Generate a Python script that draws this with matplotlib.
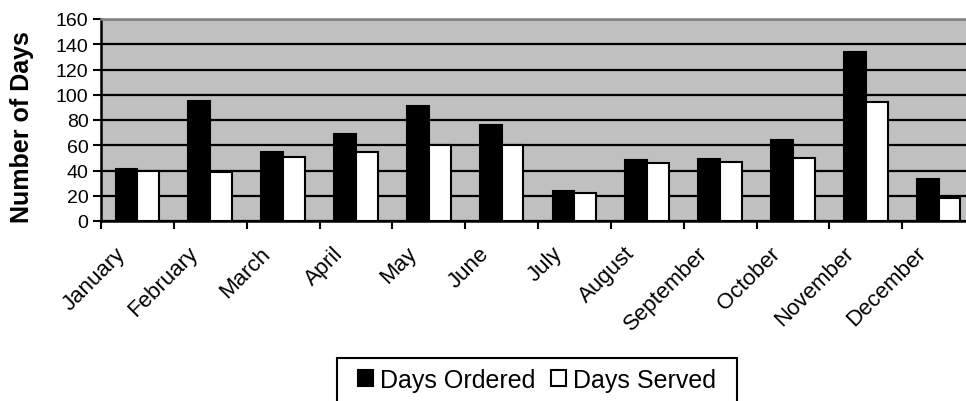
import matplotlib.pyplot as plt
import matplotlib.transforms as mtransforms
from matplotlib.patches import Rectangle
import numpy as np

plt.rcParams["font.family"] = ["Liberation Sans", "DejaVu Sans"]

months = [
    "January", "February", "March", "April", "May", "June",
    "July", "August", "September", "October", "November", "December",
]
days_ordered = [41, 95, 55, 69, 91, 76, 24, 48, 49, 64, 134, 33]
days_served = [40, 39, 51, 55, 60, 60, 22, 46, 47, 50, 94, 18]
y_ticks = [0, 20, 40, 60, 80, 100, 120, 140, 160]

W, H = 966, 402
fig = plt.figure(figsize=(W / 100, H / 100), dpi=100)
ax = fig.add_axes([101 / W, 1 - 222 / H, 874 / W, 202 / H])

ax.set_facecolor("#c0c0c0")
ax.set_axisbelow(True)

x = np.arange(len(months))
bar_w = 0.3

ax.bar(
    x + 0.2, days_ordered,
    width=bar_w, align="edge",
    color="black", edgecolor="black", linewidth=1.5,
    label="Days Ordered",
)
ax.bar(
    x + 0.5, days_served,
    width=bar_w, align="edge",
    color="white", edgecolor="black", linewidth=1.5,
    label="Days Served",
)

ax.set_xlim(0, len(months))
ax.set_ylim(0, 160)
ax.set_yticks(y_ticks)
ax.yaxis.grid(True, color="black", linewidth=1.6)

# ticks between groups, labels at group centres
ax.set_xticks(np.arange(len(months) + 1))
ax.set_xticklabels([])
ax.set_xticks(x + 0.5, minor=True)
ax.set_xticklabels(months, minor=True, rotation=45, ha="right",
                   va="top", fontsize=16)
ax.tick_params(axis="x", which="minor", length=0, pad=15.5)
ax.tick_params(axis="x", which="major", direction="out", length=6,
               width=1.5, color="black")
ax.tick_params(axis="y", direction="out", length=6, width=1.5,
               labelsize=14, pad=3)

# nudge month labels a little to the left
shift = mtransforms.ScaledTranslation(-8 / 100, 0, fig.dpi_scale_trans)
for lbl in ax.get_xticklabels(minor=True):
    lbl.set_transform(lbl.get_transform() + shift)

for side in ["left", "bottom"]:
    ax.spines[side].set_color("black")
    ax.spines[side].set_linewidth(1.8)
ax.spines["top"].set_color("#808080")
ax.spines["top"].set_linewidth(1.8)
ax.spines["right"].set_visible(False)

fig.text(
    22 / W, 1 - 127 / H, "Number of Days",
    rotation=90, ha="center", va="center",
    fontsize=18, fontweight="bold",
)

leg = fig.legend(
    loc="center",
    bbox_to_anchor=(537 / W, 1 - 381 / H),
    ncol=2, fontsize=18,
    frameon=False,
    handlelength=0.6, handleheight=0.6,
    handletextpad=0.3, columnspacing=0.6,
    borderpad=0, borderaxespad=0,
)

# legend box runs off the bottom edge
fig.patches.append(Rectangle(
    (337 / W, -0.05), 400 / W, 0.05 + (H - 359) / H,
    transform=fig.transFigure, fill=False,
    edgecolor="black", linewidth=1.5,
))

fig.savefig("out.png", dpi=100)
plt.close(fig)
